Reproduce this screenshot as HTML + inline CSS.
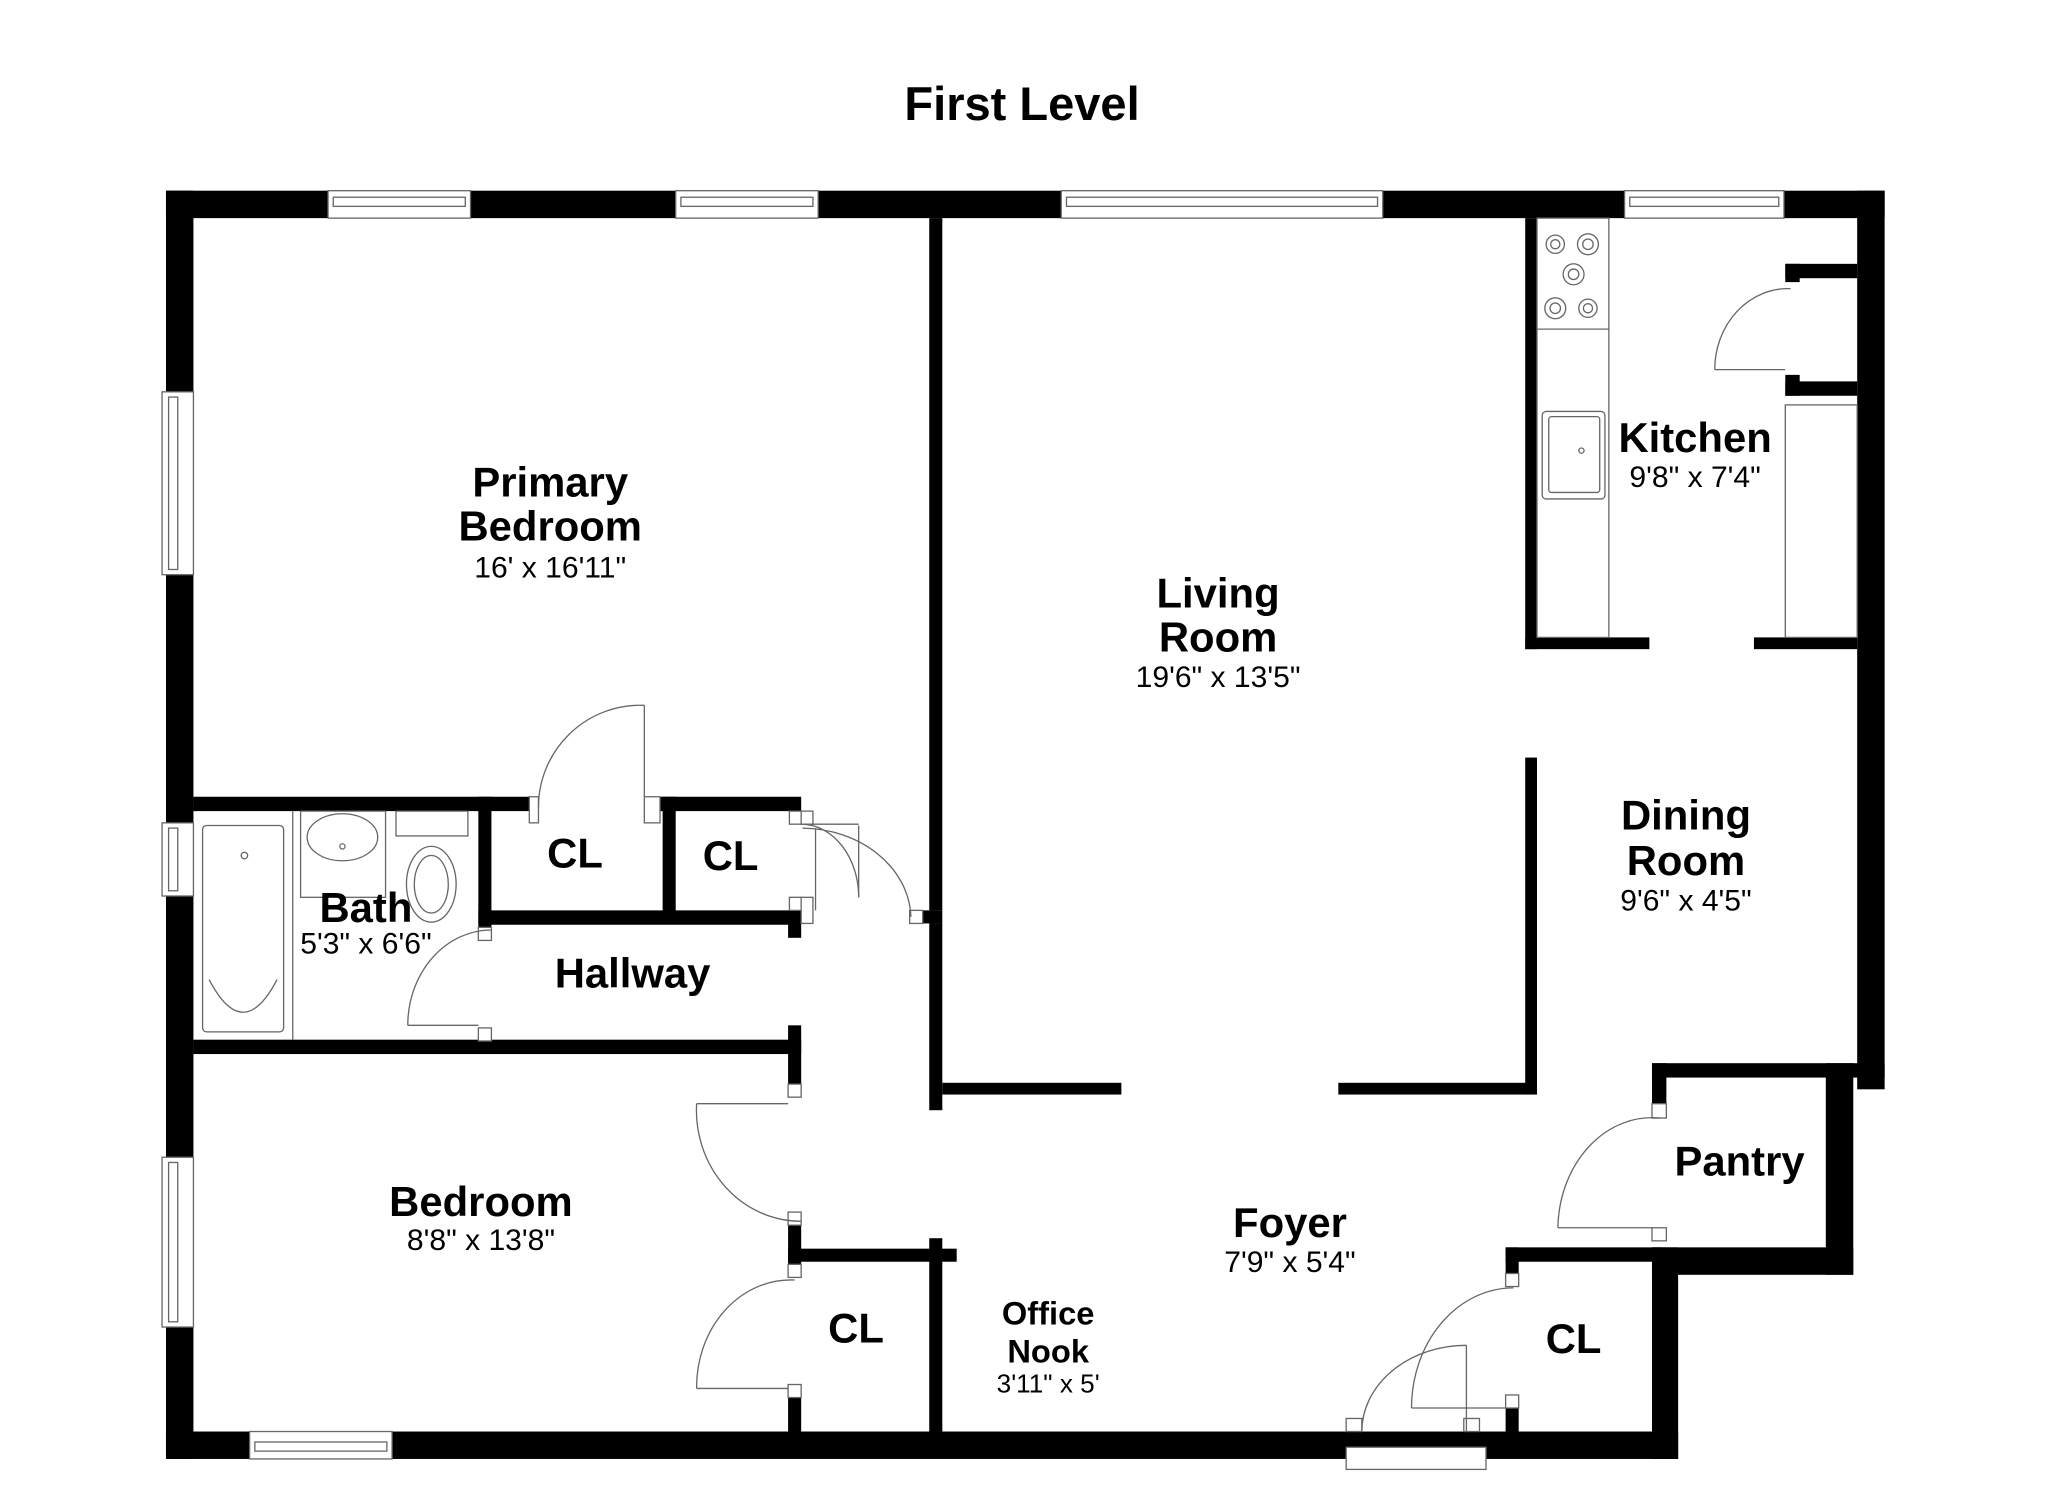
<!DOCTYPE html>
<html><head><meta charset="utf-8"><style>html,body{margin:0;padding:0;background:#fff}svg{display:block}</style></head>
<body>
<svg width="2048" height="1489" viewBox="0 0 1567 1140" preserveAspectRatio="none" xmlns="http://www.w3.org/2000/svg" font-family="Liberation Sans, Arial, sans-serif">
<rect width="1567" height="1140" fill="#fff"/>
<text x="782" y="92" font-size="36" font-weight="bold" text-anchor="middle">First Level</text>
<g fill="#000">
<rect x="127" y="146" width="1315" height="21"/>
<rect x="127" y="146" width="21" height="971"/>
<rect x="127" y="1096" width="1157" height="21"/>
<rect x="1421" y="146" width="21" height="688"/>
<rect x="1264" y="814" width="178" height="11"/>
<rect x="1397" y="814" width="21" height="162"/>
<rect x="1264" y="955" width="154" height="21"/>
<rect x="1264" y="955" width="20" height="162"/>
<rect x="1264" y="814" width="11" height="31"/>
<rect x="1152" y="955" width="120" height="11"/>
<rect x="1152" y="955" width="10" height="30"/>
<rect x="1152" y="1078" width="10" height="20"/>
<rect x="711" y="167" width="10" height="530"/>
<rect x="706" y="697" width="15" height="10"/>
<rect x="711" y="707" width="10" height="143"/>
<rect x="721" y="829" width="137" height="9"/>
<rect x="1024" y="829" width="152" height="9"/>
<rect x="1167" y="580" width="9" height="258"/>
<rect x="1167" y="167" width="9" height="330"/>
<rect x="1167" y="488" width="95" height="9"/>
<rect x="1342" y="488" width="79" height="9"/>
<rect x="1366" y="202" width="55" height="11"/>
<rect x="1366" y="202" width="11" height="14"/>
<rect x="1366" y="292" width="55" height="11"/>
<rect x="1366" y="287" width="11" height="16"/>
<rect x="148" y="610" width="257" height="11"/>
<rect x="505" y="610" width="108" height="11"/>
<rect x="366" y="610" width="10" height="100"/>
<rect x="366" y="697" width="247" height="11"/>
<rect x="507" y="610" width="10" height="92"/>
<rect x="603" y="697" width="10" height="21"/>
<rect x="148" y="796" width="465" height="11"/>
<rect x="603" y="785" width="10" height="45"/>
<rect x="603" y="938" width="10" height="30"/>
<rect x="603" y="956" width="129" height="10"/>
<rect x="603" y="1070" width="10" height="28"/>
<rect x="711" y="948" width="10" height="150"/>
</g>
<g fill="#fff" stroke="#666" stroke-width="1">
<rect x="251" y="146" width="109" height="21"/><rect x="255" y="151" width="101" height="7"/>
<rect x="517" y="146" width="109" height="21"/><rect x="521" y="151" width="101" height="7"/>
<rect x="812" y="146" width="246" height="21"/><rect x="816" y="151" width="238" height="7"/>
<rect x="1243" y="146" width="122" height="21"/><rect x="1247" y="151" width="114" height="7"/>
<rect x="124" y="300" width="24" height="140"/><rect x="129" y="304" width="7" height="132"/>
<rect x="124" y="630" width="24" height="56"/><rect x="129" y="634" width="7" height="48"/>
<rect x="124" y="886" width="24" height="130"/><rect x="129" y="890" width="7" height="122"/>
<rect x="191" y="1096" width="109" height="21"/><rect x="195" y="1104" width="101" height="7"/>
<rect x="1030" y="1108" width="107" height="17"/>
<rect x="405" y="610" width="7" height="20"/><rect x="493" y="610" width="12" height="20"/>
<rect x="604" y="621" width="9" height="10"/><rect x="604" y="687" width="9" height="10"/>
<rect x="613" y="621" width="9" height="10"/><rect x="613" y="687" width="9" height="20"/>
<rect x="696" y="697" width="10" height="10"/>
<rect x="366" y="710" width="10" height="10"/><rect x="366" y="787" width="10" height="10"/>
<rect x="603" y="830" width="10" height="10"/><rect x="603" y="928" width="10" height="10"/>
<rect x="603" y="968" width="10" height="10"/><rect x="603" y="1060" width="10" height="10"/>
<rect x="1264" y="845" width="11" height="11"/><rect x="1264" y="940" width="11" height="10"/>
<rect x="1152" y="975" width="10" height="10"/><rect x="1152" y="1068" width="10" height="10"/>
<rect x="1030" y="1086" width="12" height="10"/><rect x="1120" y="1086" width="12" height="10"/>
<rect x="1176" y="167" width="55" height="321"/>
<rect x="1366" y="310" width="55" height="178"/>
<rect x="1180" y="315" width="48" height="67" rx="3"/>
<rect x="1185" y="319" width="39" height="58" rx="2"/>
<rect x="155" y="632" width="62" height="158" rx="3"/>
<rect x="230" y="621" width="65" height="66"/>
<rect x="303" y="621" width="55" height="19"/>
<ellipse cx="330" cy="677" rx="19" ry="29"/><ellipse cx="330" cy="677" rx="13" ry="22"/>
<ellipse cx="262" cy="641" rx="27" ry="18"/>
</g>
<g fill="none" stroke="#666" stroke-width="1">
<line x1="1176" y1="252" x2="1231" y2="252"/>
<line x1="224" y1="621" x2="224" y2="796"/>
<path d="M160,750 Q186,800 212,750"/>
<circle cx="1190" cy="187" r="7"/><circle cx="1190" cy="187" r="3.5"/>
<circle cx="1215" cy="187" r="8"/><circle cx="1215" cy="187" r="4"/>
<circle cx="1204" cy="210" r="8"/><circle cx="1204" cy="210" r="4"/>
<circle cx="1190" cy="236" r="8"/><circle cx="1190" cy="236" r="4"/>
<circle cx="1215" cy="236" r="7"/><circle cx="1215" cy="236" r="3.5"/>
<circle cx="1210" cy="345" r="2"/><circle cx="187" cy="655" r="2.5"/><circle cx="262" cy="648" r="2"/>
<line x1="493" y1="540" x2="493" y2="610"/><path d="M493,540 A78,78 0 0 0 412,618"/>
<path d="M614,631 A44,56 0 0 1 657,687"/><line x1="657" y1="632" x2="657" y2="687"/><line x1="613" y1="631" x2="657" y2="631"/>
<path d="M614,634 A84,70 0 0 1 697,702"/><line x1="624" y1="634" x2="624" y2="697"/>
<line x1="312" y1="785" x2="366" y2="785"/><path d="M312,785 A64,73 0 0 1 376,712"/>
<line x1="533" y1="845" x2="603" y2="845"/><path d="M533,845 A80,85 0 0 0 613,935"/>
<line x1="533" y1="1063" x2="603" y2="1063"/><path d="M533,1063 A72,82 0 0 1 608,980"/>
<line x1="1192" y1="940" x2="1264" y2="940"/><path d="M1192,940 A72,86 0 0 1 1270,856"/>
<line x1="1080" y1="1078" x2="1152" y2="1078"/><path d="M1080,1078 A78,92 0 0 1 1158,986"/>
<line x1="1122" y1="1030" x2="1122" y2="1096"/><path d="M1122,1030 A80,66 0 0 0 1042,1096"/>
<line x1="1312" y1="283" x2="1366" y2="283"/><path d="M1312,283 A56,62 0 0 1 1370,221"/>
</g>
<g fill="#000" text-anchor="middle">
<g font-weight="bold" font-size="32">
<text x="421" y="380">Primary</text><text x="421" y="414">Bedroom</text>
<text x="932" y="465">Living</text><text x="932" y="499">Room</text>
<text x="1297" y="346">Kitchen</text>
<text x="1290" y="635">Dining</text><text x="1290" y="670">Room</text>
<text x="440" y="664">CL</text><text x="559" y="666">CL</text>
<text x="280" y="706">Bath</text>
<text x="484" y="756">Hallway</text>
<text x="368" y="931">Bedroom</text>
<text x="987" y="947">Foyer</text>
<text x="1331" y="900">Pantry</text>
<text x="655" y="1028">CL</text>
<text x="1204" y="1036">CL</text>
</g>
<g font-weight="bold" font-size="25">
<text x="802" y="1014">Office</text><text x="802" y="1043">Nook</text>
</g>
<g font-size="23">
<text x="421" y="442">16' x 16'11"</text>
<text x="932" y="526">19'6" x 13'5"</text>
<text x="1297" y="373">9'8" x 7'4"</text>
<text x="1290" y="697">9'6" x 4'5"</text>
<text x="280" y="730">5'3" x 6'6"</text>
<text x="368" y="957">8'8" x 13'8"</text>
<text x="987" y="974">7'9" x 5'4"</text>
<text x="802" y="1066" font-size="20">3'11" x 5'</text>
</g>
</g>
</svg>
</body></html>
